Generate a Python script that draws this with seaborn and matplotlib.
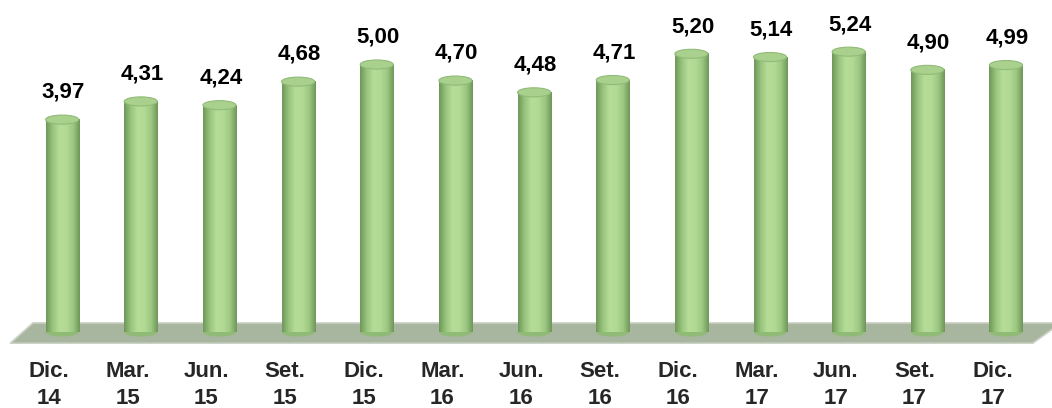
import numpy as np
import matplotlib
matplotlib.use("Agg")
import matplotlib.pyplot as plt
import matplotlib.transforms as mtransforms
import seaborn as sns
from matplotlib.colors import LinearSegmentedColormap
from matplotlib.patches import Ellipse, Polygon

# datos
periodos = ["Dic.\n14", "Mar.\n15", "Jun.\n15", "Set.\n15", "Dic.\n15", "Mar.\n16", "Jun.\n16",
            "Set.\n16", "Dic.\n16", "Mar.\n17", "Jun.\n17", "Set.\n17", "Dic.\n17"]
valores = [3.97, 4.31, 4.24, 4.68, 5.00, 4.70, 4.48, 4.71, 5.20, 5.14, 5.24, 4.90, 4.99]

sns.set_theme(style="white")
plt.rcParams['font.family'] = ['Liberation Sans', 'DejaVu Sans']

fig = plt.figure(figsize=(10.52, 4.08), dpi=100)
ax = fig.add_axes([0, 64 / 408, 1, 1 - 64 / 408])

sns.barplot(x=periodos, y=valores, color="#a9d18e", width=0.42, ax=ax, zorder=3)

ax.set_xlim(-0.79, 12.585)
ax.set_ylim(-0.224, 6.206)

# piso en perspectiva
piso = Polygon([(-0.66, -0.21), (-0.37, 0.17), (12.7, 0.17), (12.34, -0.21)],
               closed=True, facecolor="#a8b59f", edgecolor="#cbd2c6", lw=1.2, zorder=1)
ax.add_patch(piso)

# efecto cilindro
cmap = LinearSegmentedColormap.from_list(
    "cil", ["#6e9659", "#98c47d", "#b6dd98", "#b2da94", "#9cc882", "#6e9659"])
grad = np.linspace(0, 1, 256).reshape(1, -1)
cap_h = 0.17
for bar in list(ax.patches):
    if bar is piso:
        continue
    x0, w, h = bar.get_x(), bar.get_width(), bar.get_height()
    bar.set_alpha(0)
    ax.imshow(grad, cmap=cmap, aspect="auto", extent=(x0, x0 + w, 0, h),
              zorder=4, interpolation="bilinear")
    # fondo redondeado
    ax.add_patch(Ellipse((x0 + w / 2, 0), w, cap_h, facecolor="#8fbb76",
                         edgecolor="none", zorder=3.5))
    # tapa superior
    ax.add_patch(Ellipse((x0 + w / 2, h), w, cap_h, facecolor="#a9d18d",
                         edgecolor="#91bb78", lw=0.8, zorder=5))
    ax.annotate(f"{h:.2f}".replace(".", ","), (x0 + w / 2, h), xytext=(1, 12),
                textcoords="offset points", ha="center", va="bottom",
                fontsize=16, fontweight="bold", color="black")

ax.set_xticks(range(len(periodos)))
ax.set_xticklabels(periodos, fontsize=16, fontweight="bold", linespacing=1.4)
ax.tick_params(axis="x", length=0, pad=12)
# etiquetas desplazadas a la izquierda (perspectiva del piso)
desplazar = mtransforms.ScaledTranslation(-13 / 100, 0, fig.dpi_scale_trans)
for lbl in ax.get_xticklabels():
    lbl.set_transform(lbl.get_transform() + desplazar)
ax.set_yticks([])
ax.set_xlabel("")
ax.set_ylabel("")
for s in ax.spines.values():
    s.set_visible(False)

fig.savefig("out.png", dpi=100)
